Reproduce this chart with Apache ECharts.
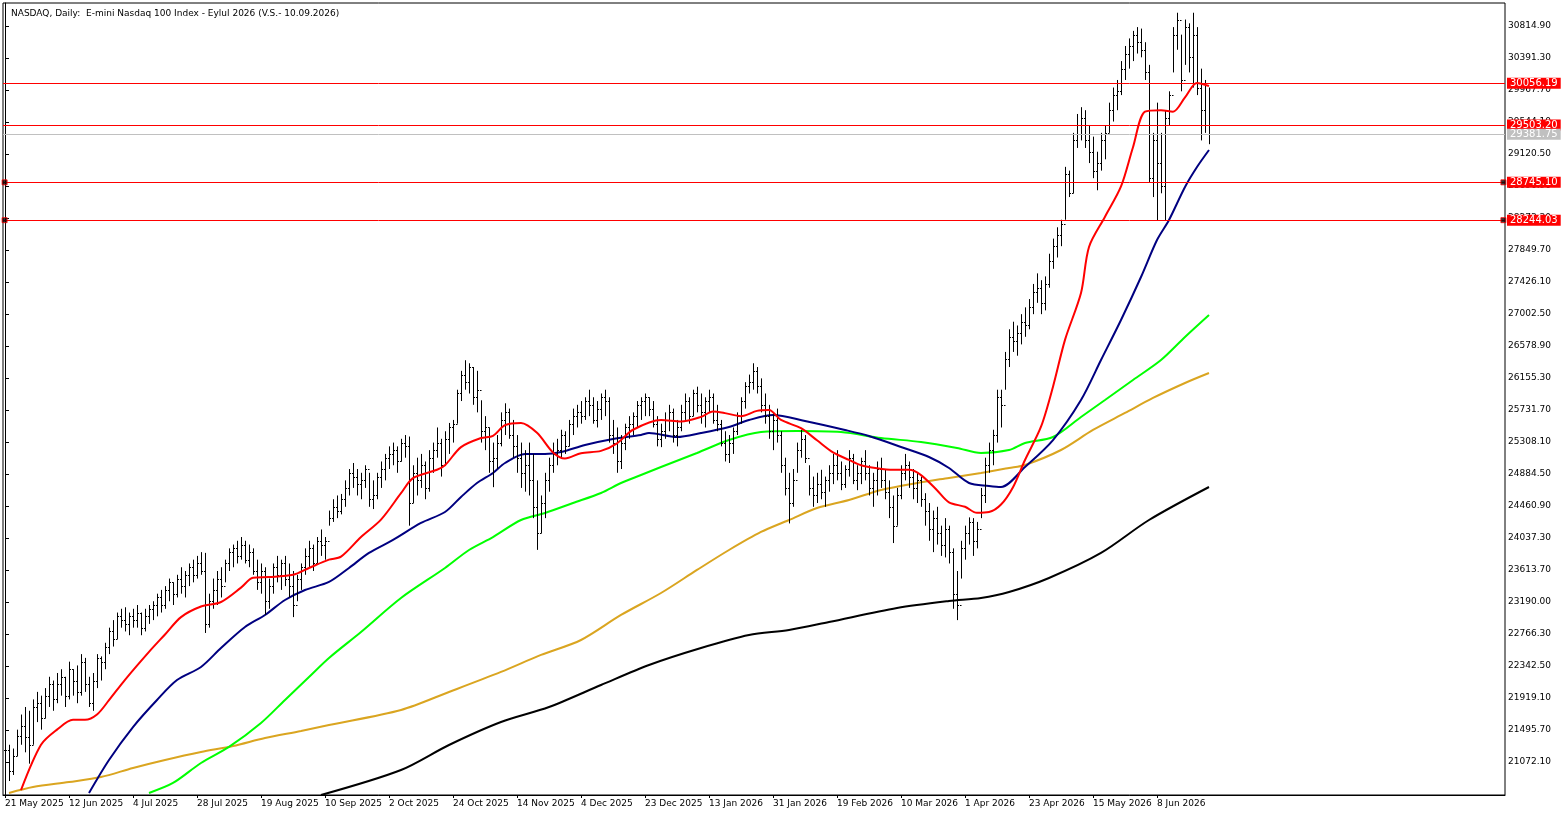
<!DOCTYPE html>
<html><head><meta charset="utf-8">
<script src="https://cdn.jsdelivr.net/npm/echarts@6/dist/echarts.min.js"></script>
<style>html,body{margin:0;padding:0;background:#fff}#c{width:1563px;height:815px}</style>
</head><body><div id="c"></div>
<script>
const title = "NASDAQ, Daily:  E-mini Nasdaq 100 Index - Eylul 2026 (V.S.- 10.09.2026)";
const dateLabels = ["21 May 2025","12 Jun 2025","4 Jul 2025","28 Jul 2025","19 Aug 2025","10 Sep 2025","2 Oct 2025","24 Oct 2025","14 Nov 2025","4 Dec 2025","23 Dec 2025","13 Jan 2026","31 Jan 2026","19 Feb 2026","10 Mar 2026","1 Apr 2026","23 Apr 2026","15 May 2026","8 Jun 2026"];
const priceTicks = [21072.10,21495.70,21919.10,22342.50,22766.30,23190.00,23613.70,24037.30,24460.90,24884.50,25308.10,25731.70,26155.30,26578.90,27002.50,27426.10,27849.70,28273.30,28696.90,29120.50,29544.10,29967.70,30391.30,30814.90];
// daily bars: high, low, close
const bars = [
[21360,21100,21230],[21300,20820,20950],[21250,20900,21150],[21500,21150,21420],[21700,21300,21550],[21800,21200,21400],[21750,21050,21300],[21900,21300,21800],[22000,21600,21850],[21950,21500,21650],
[22050,21650,21950],[22200,21800,22100],[22150,21750,21900],[22250,21850,22100],[22300,21950,22200],[22200,21800,21950],[22400,21900,22300],[22300,21950,22150],[22350,21850,22000],[22500,21950,22400],
[22450,22000,22100],[22200,21800,21850],[22250,21750,22150],[22500,22050,22450],[22470,22150,22400],[22650,22300,22600],[22850,22500,22800],[22950,22600,22700],[23050,22700,23000],[23100,22850,22950],
[23120,22800,22900],[23050,22750,23000],[23100,22850,22950],[23150,22850,23050],[23050,22750,22850],[23100,22800,23000],[23150,22900,23100],[23200,22950,23150],[23300,23000,23250],[23350,23050,23150],
[23400,23100,23350],[23500,23200,23450],[23450,23150,23300],[23550,23250,23500],[23650,23300,23400],[23600,23250,23550],[23700,23400,23650],[23750,23450,23550],[23800,23500,23700],[23850,23550,23600],
[23840,22780,22900],[23300,22850,23200],[23500,23100,23350],[23600,23150,23500],[23650,23250,23400],[23750,23450,23700],[23900,23600,23850],[23950,23650,23900],[24000,23700,23800],[24050,23750,23950],
[24000,23700,23750],[23950,23650,23850],[23900,23550,23600],[23750,23350,23450],[23700,23300,23600],[23650,23020,23200],[23500,23100,23400],[23700,23300,23650],[23800,23450,23550],[23750,23350,23700],
[23800,23400,23500],[23700,23250,23400],[23600,22990,23150],[23550,23200,23500],[23700,23350,23650],[23900,23550,23800],[24000,23650,23900],[23950,23600,23700],[24050,23700,24000],[24150,23800,23950],
[24050,23750,24000],[24400,24200,24300],[24550,24250,24450],[24600,24300,24400],[24620,24350,24550],[24800,24450,24700],[24950,24600,24900],[25030,24700,24850],[24950,24600,24750],[24900,24550,24800],
[25000,24700,24950],[24900,24450,24550],[24800,24420,24600],[24900,24550,24850],[25050,24700,24950],[25150,24800,25100],[25250,24950,25150],[25300,25000,25200],[25250,24900,25050],[25350,25050,25300],
[25400,25100,25250],[25380,24200,24500],[25000,24500,24900],[25100,24600,24800],[25150,24700,25000],[25050,24550,24700],[25200,24650,25100],[25300,24900,25200],[25500,25100,25300],[25350,24850,25000],
[25450,25000,25350],[25560,25150,25500],[25600,25300,25550],[26000,25550,25950],[26250,25850,26200],[26390,26000,26100],[26350,25950,26300],[26300,25800,25900],[26250,25700,26000],[25860,25300,25450],
[25650,25200,25500],[25500,24900,25050],[25300,24710,25100],[25400,24950,25300],[25700,25250,25600],[25820,25400,25700],[25750,25350,25400],[25600,25100,25250],[25400,24900,25100],[25300,24700,24900],
[25200,24650,25000],[25300,24600,24800],[25150,24300,24450],[24800,23880,24100],[24600,24100,24500],[24900,24300,24800],[25100,24650,25000],[25300,24900,25150],[25350,25000,25200],[25470,25100,25400],
[25450,25150,25250],[25600,25250,25550],[25750,25400,25650],[25800,25500,25700],[25850,25550,25650],[25900,25600,25850],[26000,25650,25800],[25900,25550,25600],[25850,25500,25750],[25950,25600,25900],
[26000,25650,25850],[25900,25300,25400],[25600,25150,25300],[25500,24900,25050],[25400,24950,25300],[25550,25200,25500],[25650,25350,25550],[25700,25400,25650],[25850,25500,25800],[25900,25600,25850],
[25950,25650,25900],[25900,25650,25750],[25850,25500,25550],[25650,25250,25350],[25550,25240,25450],[25700,25350,25600],[25800,25450,25700],[25750,25300,25400],[25600,25250,25500],[25800,25450,25700],
[25950,25600,25850],[25900,25550,25650],[26000,25650,25950],[26040,25700,25800],[25950,25550,25700],[25900,25500,25850],[26000,25700,25900],[25950,25550,25600],[25800,25450,25550],[25600,25250,25300],
[25450,25050,25150],[25400,25030,25300],[25500,25150,25450],[25700,25400,25650],[25900,25550,25850],[26100,25750,26050],[26200,25950,26100],[26350,26000,26250],[26300,25950,26050],[26150,25700,25800],
[25950,25550,25650],[25800,25350,25450],[25700,25200,25600],[25750,25300,25400],[25450,24900,25000],[25100,24600,24700],[24900,24230,24500],[24950,24450,24800],[25300,24900,25200],[25470,25100,25350],
[25400,25030,25100],[25000,24600,24700],[24850,24450,24600],[24900,24500,24750],[24940,24550,24650],[24850,24450,24800],[25000,24650,24900],[25150,24750,25000],[25200,24800,24900],[25050,24670,24750],
[25000,24700,24950],[25200,24850,25100],[25150,24750,24800],[25000,24670,24900],[25100,24750,25050],[25200,24800,24900],[25000,24600,24700],[24900,24450,24800],[25050,24600,24950],[25100,24700,24800],
[24950,24550,24650],[24800,24300,24450],[24600,23970,24200],[24700,24200,24600],[25000,24550,24900],[25150,24800,25000],[25050,24700,24850],[24950,24550,24700],[24900,24500,24800],[24850,24450,24550],
[24630,24200,24400],[24500,24000,24150],[24400,23850,24300],[24450,23950,24100],[24200,23800,23950],[24300,23780,24150],[24200,23700,23850],[23900,23100,23300],[23600,22950,23150],[24000,23500,23900],
[24200,23750,24100],[24310,23950,24250],[24300,23800,24000],[24250,23900,24150],[24700,24300,24600],[25100,24500,25000],[25300,24900,25200],[25470,25000,25400],[26000,25300,25900],[26000,25500,25800],
[26500,26000,26400],[26800,26300,26700],[26900,26500,26650],[26850,26450,26750],[27000,26600,26900],[27090,26700,26850],[27200,26800,27100],[27400,27000,27300],[27540,27150,27350],[27450,27000,27150],
[27500,27050,27400],[27800,27350,27700],[28000,27600,27900],[28150,27750,28050],[28250,27900,28200],[28950,28250,28850],[28900,28550,28600],[29400,28600,29300],[29650,29200,29500],[29740,29300,29600],
[29700,29200,29300],[29500,29000,29150],[29350,28800,28900],[29150,28640,29000],[29400,28900,29300],[29500,29050,29400],[29800,29400,29700],[30000,29550,29900],[30100,29700,29950],[30350,29900,30250],
[30550,30100,30450],[30650,30250,30550],[30750,30350,30700],[30800,30450,30600],[30780,30400,30500],[30600,30100,30200],[30300,28750,28800],[29400,28550,29300],[29800,28244,29000],[29400,28600,28700],
[29700,28244,29600],[29950,29500,29900],[30800,30200,30700],[30990,30500,30900],[30700,29950,30100],[30900,30300,30800],[30850,30200,30400],[30990,30000,30700],[30800,29900,30000],[30250,29300,29700],
[30100,29400,29500],[30000,29250,29381.75]
];
// moving averages read at sampled bars [barIndex, value]
const maRed = [[4,20700],[9,21300],[13,21500],[17,21630],[20,21630],[23,21700],[26,21890],[30,22160],[36,22530],[40,22760],[44,22990],[49,23130],[54,23190],[59,23380],[62,23510],[66,23520],[72,23550],[76,23640],[81,23750],[84,23790],[89,24050],[94,24280],[99,24630],[102,24830],[108,24940],[110,25000],[114,25240],[119,25360],[122,25390],[125,25530],[129,25560],[133,25430],[137,25170],[140,25090],[144,25160],[149,25190],[153,25290],[157,25470],[164,25600],[169,25580],[174,25640],[177,25710],[180,25690],[184,25650],[188,25720],[191,25730],[194,25600],[199,25490],[203,25330],[207,25170],[211,25070],[214,25000],[218,24960],[222,24940],[226,24940],[229,24870],[233,24670],[236,24510],[240,24450],[243,24370],[246,24380],[249,24480],[252,24710],[255,25070],[259,25510],[262,26040],[265,26660],[269,27280],[271,27890],[275,28290],[279,28690],[282,29210],[285,29680],[289,29700],[292,29680],[295,29870],[298,30060],[301,30020]];
const maNavy = [[21,20662],[26,21099],[32,21535],[38,21893],[43,22157],[49,22330],[54,22581],[60,22859],[65,23018],[70,23216],[75,23349],[81,23455],[86,23640],[91,23839],[97,24011],[104,24236],[110,24381],[114,24580],[118,24765],[122,24898],[125,25030],[130,25149],[135,25149],[139,25175],[145,25268],[152,25348],[159,25401],[161,25427],[168,25374],[174,25427],[181,25507],[186,25599],[192,25665],[200,25586],[210,25467],[216,25387],[224,25242],[231,25109],[236,24964],[241,24765],[246,24726],[249,24712],[255,24977],[262,25334],[269,25864],[274,26393],[279,26923],[284,27492],[288,27982],[291,28247],[295,28684],[298,28948],[301,29173]];
const maGreen = [[36,20662],[42,20794],[49,21059],[56,21271],[64,21588],[70,21893],[76,22197],[81,22449],[89,22793],[99,23243],[110,23640],[116,23878],[122,24050],[129,24275],[135,24368],[142,24500],[149,24633],[154,24765],[159,24871],[164,24977],[173,25162],[181,25334],[189,25440],[198,25454],[209,25440],[219,25361],[229,25308],[238,25229],[244,25162],[251,25202],[255,25295],[262,25374],[269,25639],[275,25864],[282,26129],[289,26393],[295,26698],[301,26989]];
const maOrange = [[1,20662],[7,20741],[16,20807],[24,20873],[32,20993],[40,21099],[49,21205],[57,21284],[65,21390],[74,21483],[81,21562],[99,21761],[111,21999],[124,22264],[134,22489],[144,22687],[154,23018],[164,23309],[173,23614],[181,23878],[189,24117],[196,24275],[203,24434],[211,24540],[219,24673],[228,24765],[236,24832],[244,24898],[251,24964],[255,25004],[264,25202],[272,25467],[280,25692],[287,25891],[295,26089],[301,26221]];
const maBlack = [[79,20635],[99,20966],[111,21297],[124,21601],[136,21800],[149,22091],[161,22356],[174,22581],[186,22753],[196,22819],[206,22925],[223,23110],[236,23203],[244,23243],[251,23322],[261,23508],[274,23839],[286,24275],[301,24712]];
const levelsRed = [30056.19, 29503.20];
const levelsBox = [28745.10, 28244.03];
const lastPrice = 29381.75;

const ohlc = bars.map((b, i) => [i, i === 0 ? b[2] : bars[i-1][2], b[0], b[1], b[2]]);
const labelIdx = dateLabels.map((_, k) => k * 16);
const boxPts = [];
levelsBox.forEach(v => { boxPts.push([-0.1, v]); boxPts.push([374.6, v]); });

const chart = echarts.init(document.getElementById('c'), null, {renderer: 'canvas'});
const lab = (bg, fg) => ({show: true, position: 'end', distance: 2, formatter: p => p.value.toFixed(2), backgroundColor: bg, color: fg, fontFamily: 'DejaVu Sans', fontSize: 10, padding: [1, 3, 0, 3]});
const maLine = (data, color) => ({type: 'line', data, symbol: 'none', smooth: 0.3, silent: true, lineStyle: {color, width: 2}, z: 3});

chart.setOption({
  animation: false,
  title: {text: title, left: 6, top: 4, textStyle: {fontFamily: 'DejaVu Sans', fontSize: 9, fontWeight: 'normal', color: '#000'}},
  grid: {left: 3, right: 58, top: 3, bottom: 20, show: true, borderColor: '#000', borderWidth: 1, backgroundColor: '#fff'},
  xAxis: {type: 'value', min: -0.5, max: 375, splitLine: {show: false},
    axisLine: {lineStyle: {color: '#000'}},
    axisTick: {show: true, customValues: labelIdx, length: 3, lineStyle: {color: '#000'}},
    axisLabel: {customValues: labelIdx, formatter: v => dateLabels[Math.round(v / 16)] || '', align: 'left', margin: 4, fontFamily: 'DejaVu Sans', fontSize: 9, color: '#000'}},
  yAxis: {type: 'value', position: 'right', min: 20635, max: 31119, scale: true, splitLine: {show: false},
    axisLine: {show: true, lineStyle: {color: '#000'}},
    axisTick: {show: true, customValues: priceTicks, length: 4, inside: false, lineStyle: {color: '#000'}},
    axisLabel: {customValues: priceTicks, formatter: v => v.toFixed(2), margin: 3, fontFamily: 'DejaVu Sans', fontSize: 9, color: '#000'}},
  series: [
    maLine(maBlack, '#000000'),
    maLine(maOrange, '#daa520'),
    maLine(maGreen, '#00ff00'),
    maLine(maNavy, '#000080'),
    {type: 'custom', data: ohlc, z: 4, encode: {x: 0, y: [2, 3]},
      renderItem: (params, api) => {
        const i = api.value(0);
        const o = api.coord([i, api.value(1)]), h = api.coord([i, api.value(2)]);
        const l = api.coord([i, api.value(3)]), c = api.coord([i, api.value(4)]);
        const x = Math.round(h[0]) + 0.5;
        const st = {stroke: '#000', lineWidth: 1};
        return {type: 'group', children: [
          {type: 'line', shape: {x1: x, y1: h[1], x2: x, y2: l[1]}, style: st},
          {type: 'line', shape: {x1: x - 1.5, y1: Math.round(o[1]) + 0.5, x2: x, y2: Math.round(o[1]) + 0.5}, style: st},
          {type: 'line', shape: {x1: x, y1: Math.round(c[1]) + 0.5, x2: x + 1.5, y2: Math.round(c[1]) + 0.5}, style: st}
        ]};
      }},
    Object.assign(maLine(maRed, '#ff0000'), {z: 5,
      markLine: {silent: true, symbol: ['none', 'none'], animation: false,
        data: [
          ...levelsRed.map(v => ({yAxis: v, lineStyle: {color: '#ff0000', width: 1, type: 'solid'}, label: lab('#ff0000', '#fff')})),
          {yAxis: lastPrice, lineStyle: {color: '#c0c0c0', width: 1, type: 'solid'}, label: lab('#c0c0c0', '#fff')},
          ...levelsBox.map(v => ({yAxis: v, lineStyle: {color: '#ff0000', width: 1, type: 'solid'}, label: lab('#ff0000', '#fff')}))
        ]}}),
    {type: 'scatter', data: boxPts, symbol: 'rect', symbolSize: 5, silent: true, z: 6,
      itemStyle: {color: '#000', borderColor: '#ff0000', borderWidth: 1}}
  ]
});
</script></body></html>
